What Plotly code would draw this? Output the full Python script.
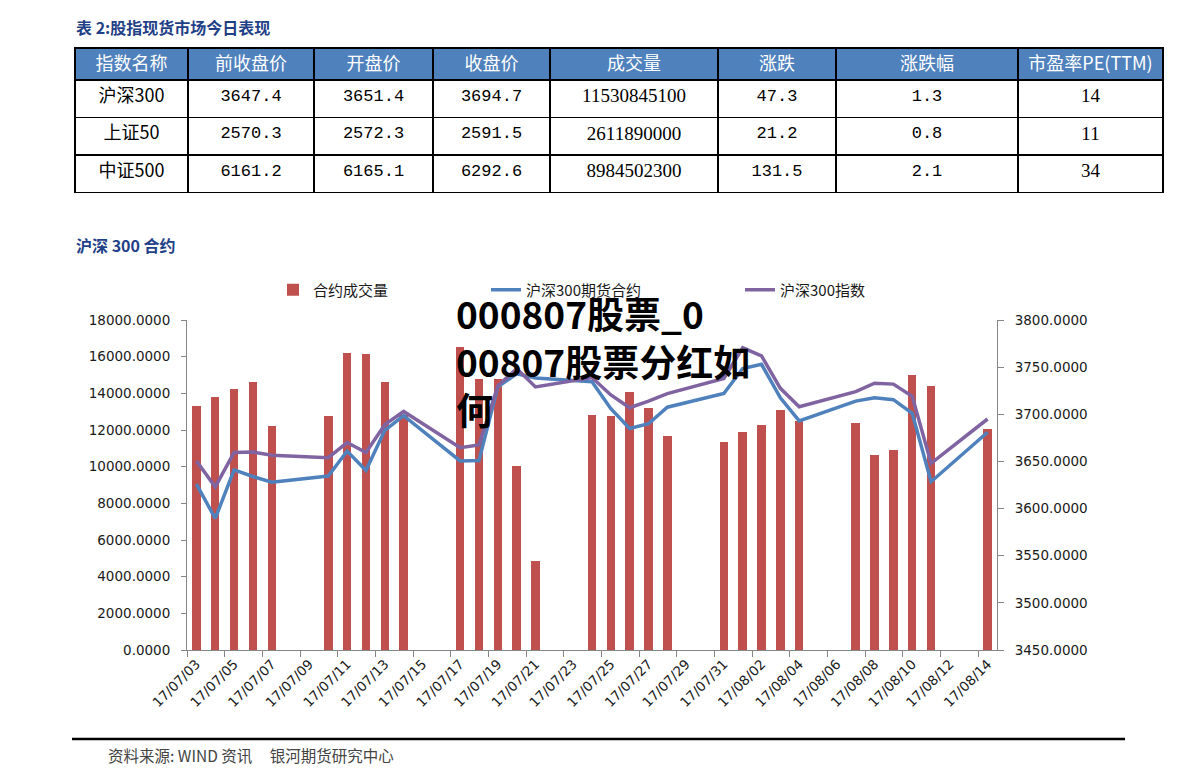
import plotly.graph_objects as go

W, H = 1191, 784
OFF = 8  # page body margin


def px(x):
    return (x - OFF) / W


def py(y):
    return 1 - (y - OFF) / H


# ---------------- data ----------------
trade_dates = [
    "2017-07-03", "2017-07-04", "2017-07-05", "2017-07-06", "2017-07-07",
    "2017-07-10", "2017-07-11", "2017-07-12", "2017-07-13", "2017-07-14",
    "2017-07-17", "2017-07-18", "2017-07-19", "2017-07-20", "2017-07-21",
    "2017-07-24", "2017-07-25", "2017-07-26", "2017-07-27", "2017-07-28",
    "2017-07-31", "2017-08-01", "2017-08-02", "2017-08-03", "2017-08-04",
    "2017-08-07", "2017-08-08", "2017-08-09", "2017-08-10", "2017-08-11",
    "2017-08-14",
]
contract_volume = [
    13300, 13800, 14250, 14600, 12200,
    12750, 16200, 16150, 14600, 12800,
    16550, 14800, 14800, 10050, 4850,
    12800, 12750, 14050, 13200, 11650,
    11350, 11900, 12250, 13100, 12500,
    12400, 10650, 10900, 15000, 14400,
    12050,
]
futures_price = [
    3626, 3589.5, 3641, 3634, 3628,
    3634.5, 3661, 3640.5, 3683, 3698.5,
    3650.5, 3651, 3729, 3743, 3738.5,
    3734.5, 3706, 3685, 3690, 3707.5,
    3722, 3748.5, 3753, 3717.5, 3693,
    3714, 3717.5, 3715.5, 3701, 3628.5,
    3681,
]
index_price = [
    3650.5, 3623, 3659.5, 3660, 3656.5,
    3654, 3670, 3659.5, 3689, 3703,
    3664.5, 3667.5, 3730, 3748.5, 3729,
    3739, 3720.5, 3707, 3714, 3722,
    3738, 3770.5, 3762, 3727.5, 3708,
    3724, 3733, 3732, 3719, 3648,
    3695,
]
tick_dates = [
    "2017-07-03", "2017-07-05", "2017-07-07", "2017-07-09", "2017-07-11",
    "2017-07-13", "2017-07-15", "2017-07-17", "2017-07-19", "2017-07-21",
    "2017-07-23", "2017-07-25", "2017-07-27", "2017-07-29", "2017-07-31",
    "2017-08-02", "2017-08-04", "2017-08-06", "2017-08-08", "2017-08-10",
    "2017-08-12", "2017-08-14",
]
tick_labels = [
    "17/07/03", "17/07/05", "17/07/07", "17/07/09", "17/07/11",
    "17/07/13", "17/07/15", "17/07/17", "17/07/19", "17/07/21",
    "17/07/23", "17/07/25", "17/07/27", "17/07/29", "17/07/31",
    "17/08/02", "17/08/04", "17/08/06", "17/08/08", "17/08/10",
    "17/08/12", "17/08/14",
]

# table data
table_header = ["指数名称", "前收盘价", "开盘价", "收盘价", "成交量", "涨跌", "涨跌幅", "市盈率PE(TTM)"]
idx_names = ["沪深300", "上证50", "中证500"]
prev_close = ["3647.4", "2570.3", "6161.2"]
open_price = ["3651.4", "2572.3", "6165.1"]
close_price = ["3694.7", "2591.5", "6292.6"]
turnover = ["11530845100", "2611890000", "8984502300"]
change = ["47.3", "21.2", "131.5"]
change_pct = ["1.3", "0.8", "2.1"]
pe_ttm = ["14", "11", "34"]

# ---------------- figure ----------------
RED = "#C0504D"
BLUE = "#4F81BD"
PURPLE = "#8064A2"
AXIS = "#868686"
TXT = "#1a1a1a"
NAVY = "#1F3F86"

fig = go.Figure()

fig.add_trace(go.Table(
    domain=dict(x=[px(75), px(1163)], y=[py(196), py(48)]),
    columnwidth=[113, 126, 119, 117, 168, 118, 182, 145],
    header=dict(
        values=table_header,
        fill_color="#4F81BD",
        line=dict(color="black", width=1.5),
        font=dict(color="white", size=18, family="Noto Sans CJK SC"),
        align="center",
        height=32,
    ),
    cells=dict(
        values=[idx_names, prev_close, open_price, close_price, turnover,
                change, change_pct, pe_ttm],
        fill_color="white",
        line=dict(color="black", width=1.5),
        font=dict(
            color="black",
            size=[18, 17, 17, 17, 19, 17, 17, 19],
            family=["Noto Sans CJK SC", "Liberation Mono", "Liberation Mono",
                    "Liberation Mono", "Liberation Serif", "Liberation Mono",
                    "Liberation Mono", "Liberation Serif"],
        ),
        align="center",
        height=37.5,
    ),
))

fig.add_trace(go.Bar(
    x=trade_dates, y=contract_volume, name="合约成交量",
    marker=dict(color=RED, line=dict(width=0)),
    width=0.45 * 86400000, legend="legend", showlegend=True,
))
fig.add_trace(go.Scatter(
    x=trade_dates, y=futures_price, name="沪深300期货合约", yaxis="y2",
    mode="lines", line=dict(color=BLUE, width=3.5), legend="legend2", showlegend=True,
))
fig.add_trace(go.Scatter(
    x=trade_dates, y=index_price, name="沪深300指数", yaxis="y2",
    mode="lines", line=dict(color=PURPLE, width=3.5), legend="legend3", showlegend=True,
))

axis_font = dict(family="DejaVu Sans", size=13.5, color=TXT)
legend_common = dict(orientation="h", yanchor="middle", y=py(290), xanchor="left",
                     font=dict(family="Noto Sans CJK SC", size=15, color=TXT),
                     bgcolor="rgba(0,0,0,0)", borderwidth=0)

fig.update_layout(
    width=W, height=H, autosize=False,
    margin=dict(l=0, r=0, t=0, b=0, autoexpand=False),
    paper_bgcolor="white", plot_bgcolor="white",
    showlegend=True,
    bargap=0,
    xaxis=dict(
        type="date", domain=[px(187), px(997)],
        range=["2017-07-02 12:00", "2017-08-14 12:00"],
        tickvals=tick_dates, ticktext=tick_labels, tickangle=-45,
        ticks="", showline=True, linecolor=AXIS, linewidth=1,
        showgrid=False, zeroline=False, tickfont=axis_font,
        minor=dict(ticks="outside", tick0="2017-07-02 12:00", dtick=2 * 86400000,
                   ticklen=6, tickcolor=AXIS, showgrid=False),
        anchor="y", automargin=False,
    ),
    yaxis=dict(
        domain=[py(650), py(320)],
        range=[0, 18000], tick0=0, dtick=2000, tickformat=".4f",
        showline=True, linecolor=AXIS, linewidth=1,
        ticks="outside", ticklen=5, tickcolor=AXIS,
        showgrid=False, zeroline=False, tickfont=axis_font,
        ticklabelstandoff=8, anchor="x", automargin=False,
    ),
    yaxis2=dict(
        overlaying="y", side="right", anchor="x",
        range=[3450, 3800], tick0=3450, dtick=50, tickformat=".4f",
        showline=True, linecolor=AXIS, linewidth=1,
        ticks="outside", ticklen=6, tickcolor=AXIS,
        showgrid=False, zeroline=False, tickfont=axis_font,
        ticklabelstandoff=8, automargin=False,
    ),
    legend=dict(x=px(273), **legend_common),
    legend2=dict(x=px(486), **legend_common),
    legend3=dict(x=px(740), **legend_common),
    shapes=[
        dict(type="line", xref="paper", yref="paper",
             x0=px(72), x1=px(1125), y0=py(739), y1=py(739),
             line=dict(color="black", width=2.5)),
    ],
    annotations=[
        dict(text="<b>表 2:股指现货市场今日表现</b>", xref="paper", yref="paper",
             x=px(74), y=py(27), xanchor="left", yanchor="middle", showarrow=False,
             font=dict(family="Noto Sans CJK SC", size=16, color=NAVY)),
        dict(text="<b>沪深 300 合约</b>", xref="paper", yref="paper",
             x=px(74), y=py(245), xanchor="left", yanchor="middle", showarrow=False,
             font=dict(family="Noto Sans CJK SC", size=16, color=NAVY)),
        dict(text="<b>000807股票_0<br>00807股票分红如<br>何</b>", xref="paper", yref="paper",
             x=px(454), y=py(284), xanchor="left", yanchor="top", align="left",
             showarrow=False,
             font=dict(family="Noto Sans CJK SC", size=37, color="black")),
        dict(text="资料来源: WIND 资讯\u00a0\u00a0\u00a0\u00a0\u00a0银河期货研究中心", xref="paper", yref="paper",
             x=px(106), y=py(755), xanchor="left", yanchor="middle", showarrow=False,
             font=dict(family="Noto Sans CJK SC", size=15.5, color="#444444")),
    ],
)

fig.write_html("out.html")
